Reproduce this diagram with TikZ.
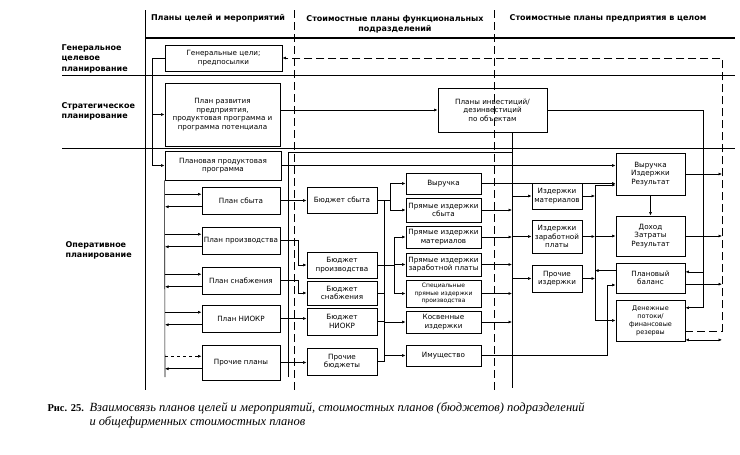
\documentclass[tikz,border=0pt]{standalone}
\usepackage{fontspec}
\setmainfont{DejaVu Sans}
\newfontfamily\capfont{Liberation Serif}
\usetikzlibrary{arrows.meta}

\begin{document}
\begin{tikzpicture}[x=1pt,y=-1pt,
    >={Latex[length=3.5pt,width=3pt]},
    box/.style 2 args={draw,line width=0.9pt,align=center,inner sep=1pt,
        minimum width=#1pt,minimum height=#2pt,font=\fontsize{7.2}{8.6}\selectfont},
    link/.style={line width=0.6pt},
    head/.style={font=\bfseries\fontsize{8}{10}\selectfont,align=center},
    lvl/.style={font=\bfseries\fontsize{8}{10.5}\selectfont,align=left,anchor=north west}]
    \useasboundingbox (0,0) rectangle (740,455);

    %% columns and rows
    \draw[line width=0.8pt] (145,10) -- (145,390);
    \foreach \x in {294,494}
        \draw[line width=0.6pt,dash pattern=on 8pt off 4pt] (\x,10) -- (\x,390);
    \draw[line width=1.2pt] (145,38) -- (735,38);
    \foreach \y in {75,148}
        \draw[line width=0.8pt] (62,\y) -- (735,\y);

    %% headings
    \node[head] (h1) at (218,18) {Планы целей и мероприятий};
    \node[head] (h2) at (395,24) {Стоимостные планы функциональных\\подразделений};
    \node[head] (h3) at (608,18) {Стоимостные планы предприятия в целом};
    \node[lvl] (l1) at (58,41) {Генеральное\\целевое\\планирование};
    \node[lvl] (l2) at (58,99) {Стратегическое\\планирование};
    \node[lvl] (l3) at (62,238) {Оперативное\\планирование};

    %% plans
    \node[box={117}{26}] (G) at (223.5,58) {Генеральные цели;\\предпосылки};
    \node[box={115}{63}] (R) at (222.5,114.5) {План развития\\предприятия,\\продуктовая программа и\\программа потенциала};
    \node[box={109}{44}] (I) at (492.5,110) {Планы инвестиций/\\дезинвестиций\\по объектам};
    \node[box={116}{29}] (P0) at (223,165.5) {Плановая продуктовая\\программа};
    \node[box={78}{27}] (P1) at (241,200.5) {План сбыта};
    \node[box={78}{27}] (P2) at (241,240.5) {План производства};
    \node[box={78}{27}] (P3) at (241,280.5) {План снабжения};
    \node[box={78}{27}] (P4) at (241,318.5) {План НИОКР};
    \node[box={78}{35}] (P5) at (241,362.5) {Прочие планы};

    %% budgets
    \node[box={70}{26}] (B1) at (342,200) {Бюджет сбыта};
    \node[box={70}{26}] (B2) at (342,265) {Бюджет\\производства};
    \node[box={70}{24}] (B3) at (342,293) {Бюджет\\снабжения};
    \node[box={70}{27}] (B4) at (342,321.5) {Бюджет\\НИОКР};
    \node[box={70}{27}] (B5) at (342,361.5) {Прочие\\бюджеты};

    %% cost items
    \node[box={75}{21}] (C1) at (443.5,183.5) {Выручка};
    \node[box={75}{24}] (C2) at (443.5,210) {Прямые издержки\\сбыта};
    \node[box={75}{22}] (C3) at (443.5,237) {Прямые издержки\\материалов};
    \node[box={75}{23}] (C4) at (443.5,264.5) {Прямые издержки\\заработной платы};
    \node[box={75}{27},font=\fontsize{6}{7.3}\selectfont] (C5) at (443.5,293.5) {Специальные\\прямые издержки\\производства};
    \node[box={75}{22}] (C6) at (443.5,322) {Косвенные\\издержки};
    \node[box={75}{21}] (C7) at (443.5,355.5) {Имущество};

    %% company plans
    \node[box={50}{26}] (K1) at (557,196) {Издержки\\материалов};
    \node[box={50}{33}] (K2) at (557,236.5) {Издержки\\заработной\\платы};
    \node[box={50}{27}] (K3) at (557,278.5) {Прочие\\издержки};
    \node[box={69}{42}] (E1) at (650.5,174) {Выручка\\Издержки\\Результат};
    \node[box={69}{40}] (E2) at (650.5,236) {Доход\\Затраты\\Результат};
    \node[box={69}{30}] (E3) at (650.5,278) {Плановый\\баланс};
    \node[box={69}{41},font=\fontsize{6.5}{8}\selectfont] (E4) at (650.5,320.5) {Денежные\\потоки/\\финансовые\\резервы};

    %% bus lines
    \coordinate (lfb) at (152,58);
    \coordinate (lbus) at (165,377);
    \coordinate (ifr) at (288,152);
    \coordinate (mbus) at (384,200);
    \coordinate (rbus) at (512,388);
    \coordinate (kbus) at (595,185);
    \coordinate (pbal) at (607,285);
    \coordinate (inv) at (703,110);
    \coordinate (fb) at (722,58);

    %% left side
    \draw[link] (G.west) -- (lfb) -- (lfb |- P0.west);
    \draw[link,->] (lfb |- R.west) -- (R.west);
    \draw[link,->] (lfb |- P0.west) -- (P0.west);
    \draw[link] (P0.south west) -- (lbus);
    \foreach \p/\s in {P1/solid,P2/solid,P3/solid,P4/solid,P5/dashed}{
        \draw[link,->,\s] (lbus |- \p.171) -- (\p.171);
        \draw[link,->] (\p.189) -- (lbus |- \p.189);
    }
    \draw[link,->] (R.east |- I.west) -- (I.west);
    \draw[link,->] (P0.east) -- (P0.east -| E1.west);

    %% plans to budgets
    \draw[link,->] (P1.east) -- (P1.east -| B1.west);
    \draw[link,->] (P2.east) -- ++(18,0) |- (B2.west);
    \draw[link,->] (P3.east) -- ++(18,0) |- (B3.west);
    \draw[link,->] (P4.east) -- (P4.east -| B4.west);
    \draw[link,->] (P5.east) -- (P5.east -| B5.west);
    \draw[link] (I.south -| rbus) -- (rbus);
    \draw[link] (ifr |- lbus) -- (ifr) -- (ifr -| rbus);

    %% budgets to cost items
    \draw[link] (mbus) -- (mbus |- B5.east);
    \draw[link] (B1.east) -- ++(13,0) coordinate (s1);
    \draw[link,->] (s1) |- (C1.west);
    \draw[link,->] (s1) |- (C2.west);
    \draw[link] (B2.east) -- ++(17,0) coordinate (s2);
    \foreach \c in {C3,C4,C5}
        \draw[link,->] (s2) |- (\c.west);
    \foreach \b in {B3,B4,B5}
        \draw[link] (\b.east) -- (\b.east -| mbus);
    \foreach \c in {C6,C7}
        \draw[link,->] (mbus |- \c.west) -- (\c.west);

    %% cost items to company plans
    \draw[link,->] (C1.east) -- (C1.east -| E1.west);
    \foreach \c in {C2,C3,C4,C5,C6}
        \draw[link,->] (\c.east) -- (\c.east -| rbus);
    \draw[link,->] (C7.east) -| (pbal) -- (pbal -| E3.west);
    \foreach \k in {K1,K2,K3}{
        \draw[link,->] (rbus |- \k.west) -- (\k.west);
        \draw[link,->] (\k.east) -- (\k.east -| kbus);
    }
    \draw[link] (kbus) -- (kbus |- E4.west);
    \draw[link,->] (kbus) -- (kbus -| E1.west);
    \draw[link,->] (kbus |- E2.west) -- (E2.west);
    \draw[link,->] (kbus |- E4.west) -- (E4.west);
    \draw[link,->] (E3.168) -- (E3.168 -| kbus);
    \draw[link,->] (E1) -- (E2);

    %% right side
    \draw[link] (I.east) -- (inv) -- (inv |- E4.20);
    \draw[link,->] (inv |- E3.10) -- (E3.10);
    \draw[link,->] (inv |- E4.20) -- (E4.20);
    \foreach \e in {E1.east,E2.east,E3.-10}
        \draw[link,->] (\e) -- (\e -| fb);
    \draw[link,<->] (E4.-29) -- (E4.-29 -| fb);
    \draw[line width=0.8pt,dash pattern=on 8pt off 4pt,->] (E4.-18) -| (fb) -- (G.east);

    %% caption
    \node[anchor=base west,font=\capfont\bfseries\fontsize{10.5}{12}\selectfont] (fig) at (44,411) {Рис. 25.};
    \node[anchor=base west,font=\capfont\itshape\fontsize{12.5}{14}\selectfont] (cap1) at (86,411) {Взаимосвязь планов целей и мероприятий, стоимостных планов (бюджетов) подразделений};
    \node[anchor=base west,font=\capfont\itshape\fontsize{12.5}{14}\selectfont] (cap2) at (86,425) {и общефирменных стоимостных планов};
\end{tikzpicture}
\end{document}
